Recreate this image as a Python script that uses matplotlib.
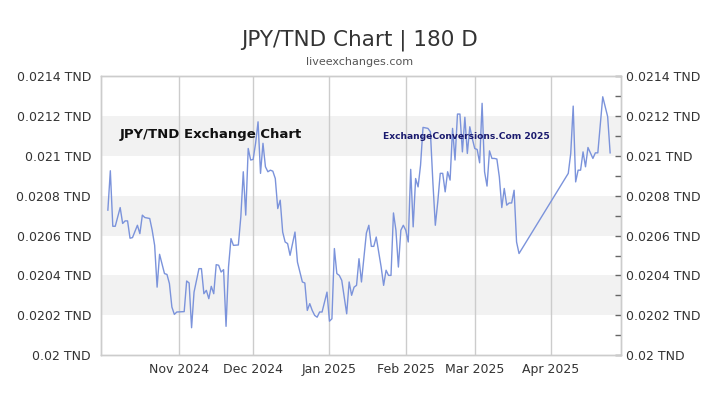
import numpy as np
import pandas as pd
import matplotlib
matplotlib.use("Agg")
import matplotlib.pyplot as plt
import matplotlib.dates as mdates
from matplotlib.ticker import MultipleLocator, FuncFormatter

dates = [
    "2024-10-03", "2024-10-04", "2024-10-05", "2024-10-06", "2024-10-08", "2024-10-09",
    "2024-10-10", "2024-10-11", "2024-10-12", "2024-10-13", "2024-10-15", "2024-10-16",
    "2024-10-17", "2024-10-18", "2024-10-20", "2024-10-21", "2024-10-22", "2024-10-23",
    "2024-10-24", "2024-10-26", "2024-10-27", "2024-10-28", "2024-10-29", "2024-10-30",
    "2024-10-31", "2024-11-03", "2024-11-04", "2024-11-05", "2024-11-06", "2024-11-07",
    "2024-11-09", "2024-11-10", "2024-11-11", "2024-11-12", "2024-11-13", "2024-11-14",
    "2024-11-15", "2024-11-16", "2024-11-17", "2024-11-18", "2024-11-19", "2024-11-20",
    "2024-11-21", "2024-11-22", "2024-11-23", "2024-11-25", "2024-11-26", "2024-11-27",
    "2024-11-28", "2024-11-29", "2024-11-30", "2024-12-01", "2024-12-02", "2024-12-03",
    "2024-12-04", "2024-12-05", "2024-12-06", "2024-12-07", "2024-12-08", "2024-12-09",
    "2024-12-10", "2024-12-11", "2024-12-12", "2024-12-13", "2024-12-14", "2024-12-15",
    "2024-12-16", "2024-12-18", "2024-12-19", "2024-12-21", "2024-12-22", "2024-12-23",
    "2024-12-24", "2024-12-25", "2024-12-26", "2024-12-27", "2024-12-28", "2024-12-29",
    "2024-12-31", "2025-01-01", "2025-01-02", "2025-01-03", "2025-01-04", "2025-01-05",
    "2025-01-06", "2025-01-08", "2025-01-09", "2025-01-10", "2025-01-11", "2025-01-12",
    "2025-01-13", "2025-01-14", "2025-01-16", "2025-01-17", "2025-01-18", "2025-01-19",
    "2025-01-20", "2025-01-22", "2025-01-23", "2025-01-24", "2025-01-25", "2025-01-26",
    "2025-01-27", "2025-01-28", "2025-01-29", "2025-01-30", "2025-01-31", "2025-02-01",
    "2025-02-02", "2025-02-03", "2025-02-04", "2025-02-05", "2025-02-06", "2025-02-07",
    "2025-02-08", "2025-02-10", "2025-02-11", "2025-02-12", "2025-02-13", "2025-02-14",
    "2025-02-15", "2025-02-16", "2025-02-17", "2025-02-18", "2025-02-19", "2025-02-20",
    "2025-02-21", "2025-02-22", "2025-02-23", "2025-02-24", "2025-02-25", "2025-02-26",
    "2025-02-27", "2025-02-28", "2025-03-01", "2025-03-02", "2025-03-03", "2025-03-04",
    "2025-03-05", "2025-03-06", "2025-03-07", "2025-03-08", "2025-03-09", "2025-03-10",
    "2025-03-11", "2025-03-12", "2025-03-13", "2025-03-14", "2025-03-15", "2025-03-16",
    "2025-03-17", "2025-03-18", "2025-03-19", "2025-04-08", "2025-04-09", "2025-04-10",
    "2025-04-11", "2025-04-12", "2025-04-13", "2025-04-14", "2025-04-15", "2025-04-16",
    "2025-04-18", "2025-04-19", "2025-04-20", "2025-04-22", "2025-04-24", "2025-04-25",
]

rates = [
    0.020728, 0.020926, 0.020647, 0.020647, 0.020741, 0.020661,
    0.020674, 0.020674, 0.020587, 0.020590, 0.020652, 0.020610,
    0.020703, 0.020691, 0.020686, 0.020627, 0.020551, 0.020341,
    0.020506, 0.020409, 0.020405, 0.020359, 0.020241, 0.020204,
    0.020216, 0.020218, 0.020372, 0.020362, 0.020137, 0.020316,
    0.020434, 0.020434, 0.020308, 0.020325, 0.020283, 0.020345,
    0.020308, 0.020454, 0.020451, 0.020417, 0.020429, 0.020144,
    0.020442, 0.020585, 0.020551, 0.020553, 0.020694, 0.020921,
    0.020703, 0.021038, 0.020980, 0.020983, 0.021064, 0.021172,
    0.020913, 0.021064, 0.020946, 0.020921, 0.020929, 0.020924,
    0.020887, 0.020736, 0.020778, 0.020618, 0.020568, 0.020560,
    0.020501, 0.020618, 0.020467, 0.020367, 0.020362, 0.020224,
    0.020258, 0.020224, 0.020199, 0.020190, 0.020216, 0.020216,
    0.020316, 0.020170, 0.020182, 0.020535, 0.020409, 0.020400,
    0.020375, 0.020207, 0.020367, 0.020300, 0.020341, 0.020350,
    0.020484, 0.020367, 0.020613, 0.020652, 0.020546, 0.020546,
    0.020593, 0.020442, 0.020350, 0.020426, 0.020400, 0.020400,
    0.020714, 0.020627, 0.020442, 0.020627, 0.020652, 0.020627,
    0.020568, 0.020933, 0.020644, 0.020887, 0.020845, 0.020954,
    0.021144, 0.021139, 0.021122, 0.020870, 0.020652, 0.020770,
    0.020913, 0.020913, 0.020820, 0.020921, 0.020879, 0.021139,
    0.020980, 0.021211, 0.021211, 0.021021, 0.021195, 0.021013,
    0.021147, 0.021089, 0.021038, 0.021033, 0.020966, 0.021265,
    0.020921, 0.020849, 0.021026, 0.020988, 0.020988, 0.020985,
    0.020895, 0.020741, 0.020837, 0.020753, 0.020764, 0.020764,
    0.020828, 0.020568, 0.020510, 0.020913, 0.021013, 0.021251,
    0.020870, 0.020929, 0.020929, 0.021021, 0.020946, 0.021043,
    0.020988, 0.021016, 0.021016, 0.021298, 0.021198, 0.021016,
]

month_ticks = ["2024-11-01", "2024-12-01", "2025-01-01", "2025-02-01", "2025-03-01", "2025-04-01"]
month_labels = ["Nov 2024", "Dec 2024", "Jan 2025", "Feb 2025", "Mar 2025", "Apr 2025"]
y_min, y_max, y_step = 0.0200, 0.0214, 0.0002

df = pd.DataFrame({"date": pd.to_datetime(dates), "rate": rates})

fig = plt.figure(figsize=(7.2, 4.05), dpi=100)
ax = fig.add_axes([0.1399, 0.1235, 0.7222, 0.6877])

# alternating bands
levels = np.arange(y_min, y_max + 1e-9, y_step)
for i in range(len(levels) - 1):
    if i % 2 == 1:
        ax.axhspan(levels[i], levels[i + 1], color="#f2f2f2", zorder=0, lw=0)

tick_pos = pd.to_datetime(month_ticks)
for t in tick_pos:
    ax.axvline(t, color="#cccccc", lw=1, zorder=1)

ax.plot(df["date"], df["rate"], color="#7b93db", lw=1.0, zorder=3)

x0 = mdates.date2num(pd.Timestamp("2024-11-01")) - 31.9
x1 = mdates.date2num(pd.Timestamp("2024-11-01")) + 179.3
ax.set_xlim(x0, x1)
ax.set_ylim(y_min, y_max)

ax.set_xticks(tick_pos)
ax.set_xticklabels(month_labels)
ax.tick_params(axis="x", length=0, pad=6, labelsize=9, labelcolor="#333333")

fmt = FuncFormatter(lambda v, p: ("%.4f" % v).rstrip("0").rstrip(".") + " TND")
ax.yaxis.set_major_locator(MultipleLocator(y_step))
ax.yaxis.set_major_formatter(fmt)
ax.tick_params(axis="y", length=0, pad=7, labelsize=9, labelcolor="#333333")

ax2 = ax.twinx()
ax2.set_ylim(y_min, y_max)
ax2.yaxis.set_major_locator(MultipleLocator(y_step))
ax2.yaxis.set_minor_locator(MultipleLocator(y_step / 2))
ax2.yaxis.set_major_formatter(fmt)
ax2.tick_params(axis="y", which="both", direction="in", length=4, width=1,
                color="#666666", pad=4, labelsize=9, labelcolor="#333333")

for a in (ax, ax2):
    for s in a.spines.values():
        s.set_color("#cccccc")
        s.set_linewidth(1)

fig.text(0.5, 0.9, "JPY/TND Chart | 180 D", ha="center", va="center",
         fontsize=15.5, color="#333333")
fig.text(0.5, 0.847, "liveexchanges.com", ha="center", va="center",
         fontsize=8, color="#555555")

fig.text(0.1667, 0.667, "JPY/TND Exchange Chart", ha="left", va="center",
         fontsize=9.5, fontweight="bold", color="#111111")
fig.text(0.532, 0.662, "ExchangeConversions.Com 2025", ha="left", va="center",
         fontsize=6.6, fontweight="bold", color="#1a1a6e")

fig.savefig("out.png", dpi=100)
